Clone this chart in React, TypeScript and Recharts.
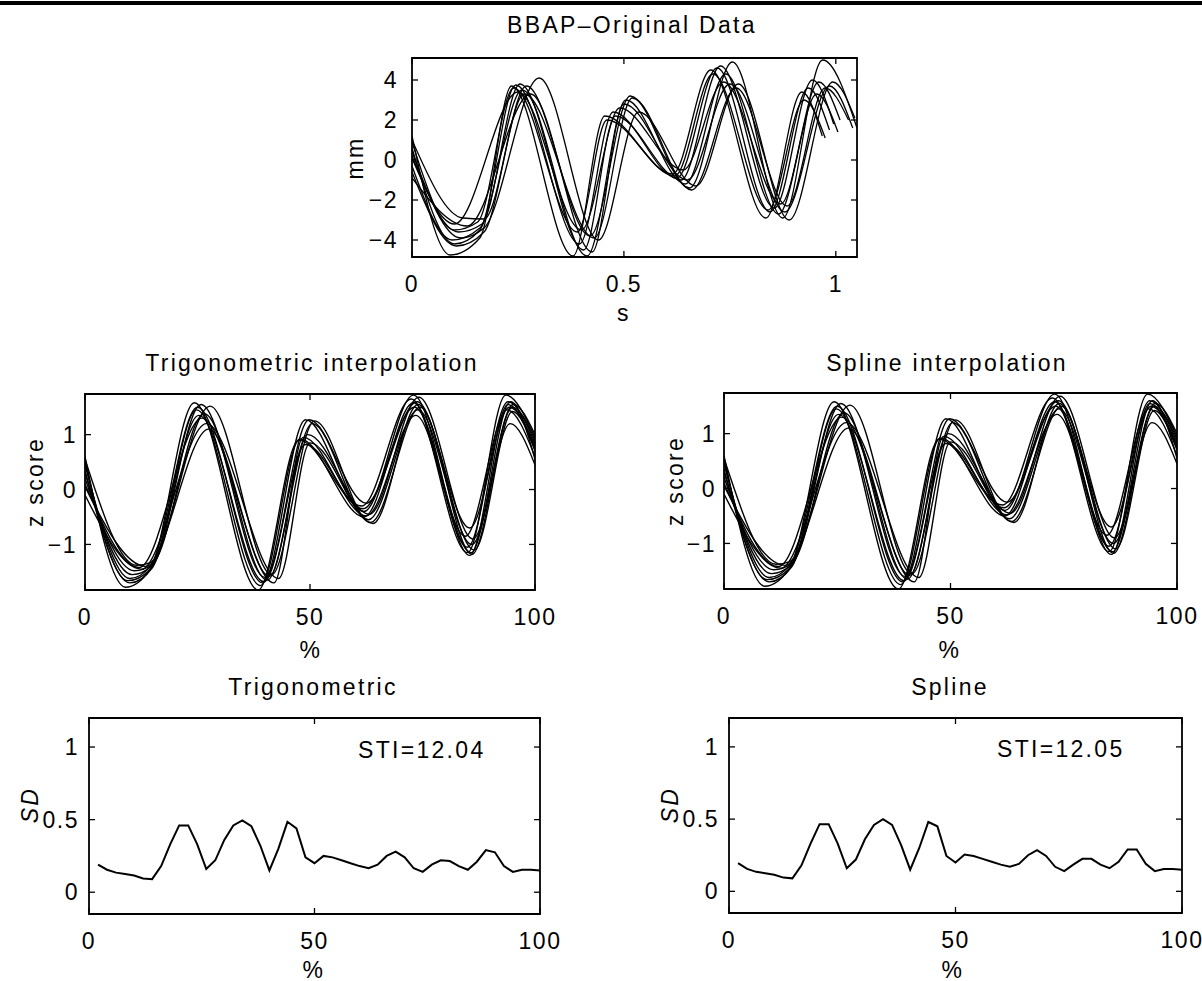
import { Line, LineChart, ReferenceArea, XAxis, YAxis } from "recharts";

const FONT = "'Liberation Sans', Arial, Helvetica, sans-serif";

// BBAP original recordings: [time s, displacement mm] at turning points
const bbap1 = [[0, 1.2], [0.09, -4.75], [0.16, -3.9], [0.235, 3.7], [0.38, -4.8], [0.455, 2.2], [0.615, -0.7], [0.705, 4.5], [0.835, -2.9], [0.92, 3.4], [0.968, 1.2]];
const bbap2 = [[0, 0.6], [0.1, -4.2], [0.16, -3.5], [0.245, 3.75], [0.395, -4.2], [0.475, 2.4], [0.625, -0.9], [0.72, 4.6], [0.845, -2.6], [0.935, 3.6], [0.985, 1.5]];
const bbap3 = [[0, 0.2], [0.11, -3.6], [0.165, -3.2], [0.255, 3.8], [0.405, -4.5], [0.48, 2.2], [0.635, -1.0], [0.728, 4.7], [0.855, -2.4], [0.945, 4.0], [0.995, 1.8]];
const bbap4 = [[0, -0.3], [0.095, -4.0], [0.16, -3.4], [0.26, 3.5], [0.413, -4.8], [0.505, 3.0], [0.645, -1.2], [0.74, 4.3], [0.865, -2.7], [0.955, 3.3], [1.005, 1.4]];
const bbap5 = [[0, 1.0], [0.12, -2.9], [0.17, -2.95], [0.27, 3.7], [0.42, -3.8], [0.515, 3.2], [0.655, -1.4], [0.756, 4.9], [0.875, -2.9], [0.969, 5.0], [1.05, 1.6]];
const bbap6 = [[0, 0.1], [0.1, -3.2], [0.25, 3.4], [0.4, -3.5], [0.49, 2.6], [0.64, -0.5], [0.735, 3.9], [0.87, -2.2], [0.96, 3.9], [1.01, 2.0]];
const bbap7 = [[0, -0.6], [0.105, -4.3], [0.17, -3.6], [0.265, 3.3], [0.43, -3.9], [0.52, 3.1], [0.66, -1.5], [0.765, 3.6], [0.885, -2.3], [0.975, 3.6], [1.03, 2.0]];
const bbap8 = [[0, 0.4], [0.115, -3.9], [0.17, -3.4], [0.3, 4.1], [0.44, -4.0], [0.535, 2.4], [0.67, -1.3], [0.77, 3.8], [0.89, -3.0], [0.993, 3.9], [1.045, 2.1]];
const bbap9 = [[0, 0.9], [0.1, -3.5], [0.155, -3.1], [0.24, 3.6], [0.39, -3.6], [0.46, 2.0], [0.62, -0.8], [0.71, 4.3], [0.84, -2.5], [0.925, 3.0], [0.975, 1.1]];
const bbap10 = [[0, -0.9], [0.13, -3.3], [0.28, 3.3], [0.425, -4.6], [0.5, 2.8], [0.65, -1.0], [0.75, 3.8], [0.88, -2.6], [0.985, 3.7], [1.04, 1.6]];
const bbapCurves = [bbap1, bbap2, bbap3, bbap4, bbap5, bbap6, bbap7, bbap8, bbap9, bbap10];

// time-normalised z scores: [% of cycle, z]
const z1 = [[0, 0.6], [9, -1.78], [14.5, -1.45], [24.3, 1.58], [38.5, -1.83], [47.5, 0.9], [61.5, -0.3], [72.5, 1.65], [85, -1.15], [93.5, 1.72], [100, 0.95]];
const z2 = [[0, 0.45], [10, -1.62], [14.5, -1.4], [25, 1.5], [39.5, -1.7], [49, 1.27], [62, -0.4], [73, 1.72], [85.5, -1.2], [94, 1.55], [100, 0.75]];
const z3 = [[0, 0.3], [10.5, -1.55], [15, -1.38], [25.8, 1.55], [40, -1.6], [49.8, 1.27], [62.5, -0.25], [73.8, 1.6], [85.5, -0.7], [94.3, 1.5], [100, 0.8]];
const z4 = [[0, 0.2], [11, -1.48], [15, -1.36], [26.5, 1.38], [40.5, -1.65], [50.5, 1.2], [63, -0.55], [74, 1.45], [86, -1.0], [94.5, 1.2], [100, 0.45]];
const z5 = [[0, 0.55], [11.5, -1.38], [14.5, -1.33], [27.8, 1.52], [41.5, -1.55], [51, 1.25], [63.5, -0.6], [74.5, 1.5], [86, -1.18], [95, 1.5], [100, 0.9]];
const z6 = [[0, 0.1], [12, -1.42], [26, 1.3], [42, -1.7], [48.5, 0.95], [62.5, -0.48], [73.5, 1.35], [84.5, -0.85], [93.8, 1.45], [100, 0.6]];
const z7 = [[0, -0.1], [12.5, -1.45], [27, 1.2], [43, -1.62], [50, 0.85], [64, -0.62], [74, 1.55], [86.5, -1.1], [95, 1.42], [100, 0.7]];
const z8 = [[0, 0.35], [10, -1.7], [15, -1.42], [24.8, 1.45], [39, -1.75], [47.8, 0.92], [62, -0.5], [73, 1.58], [85, -1.05], [94, 1.6], [100, 0.85]];
const z9 = [[0, 0.05], [13.5, -1.4], [27.5, 1.1], [41, -1.58], [49.5, 1.0], [63.2, -0.45], [74.2, 1.68], [86.2, -0.9], [95.2, 1.55], [100, 1.0]];
const z10 = [[0, 0.5], [9.5, -1.66], [14.5, -1.45], [25.3, 1.35], [39.8, -1.68], [49, 0.82], [61.8, -0.35], [73.2, 1.5], [85.8, -1.15], [94.6, 1.6], [100, 0.55]];
const trigCurves = [z1, z2, z3, z4, z5, z6, z7, z8, z9, z10];
// spline result is visually the same set of curves
const splineCurves = trigCurves;

// standard deviation across cycles
const sdPct = [2, 4, 6, 8, 10, 12, 14, 16, 18, 20, 22, 24, 26, 28, 30, 32, 34, 36, 38, 40, 42, 44, 46, 48, 50, 52, 54, 56, 58, 60, 62, 64, 66, 68, 70, 72, 74, 76, 78, 80, 82, 84, 86, 88, 90, 92, 94, 96, 98, 100];
const sdTrig = [0.19, 0.155, 0.135, 0.125, 0.115, 0.095, 0.09, 0.18, 0.33, 0.46, 0.46, 0.33, 0.16, 0.22, 0.36, 0.46, 0.495, 0.455, 0.32, 0.15, 0.3, 0.485, 0.44, 0.24, 0.2, 0.25, 0.24, 0.22, 0.2, 0.18, 0.165, 0.19, 0.25, 0.28, 0.24, 0.165, 0.14, 0.19, 0.22, 0.215, 0.18, 0.155, 0.21, 0.29, 0.275, 0.18, 0.14, 0.155, 0.155, 0.15];
const sdSpline = [0.195, 0.155, 0.135, 0.125, 0.115, 0.095, 0.09, 0.18, 0.33, 0.465, 0.465, 0.33, 0.16, 0.22, 0.36, 0.46, 0.5, 0.46, 0.32, 0.15, 0.3, 0.48, 0.45, 0.245, 0.2, 0.255, 0.245, 0.225, 0.205, 0.185, 0.17, 0.19, 0.25, 0.285, 0.245, 0.17, 0.14, 0.185, 0.225, 0.225, 0.185, 0.16, 0.205, 0.29, 0.29, 0.19, 0.14, 0.155, 0.155, 0.15];

const toPts = (pairs) => pairs.map(([x, y]) => ({ x, y }));
const fmtNum = (v) => (v < 0 ? "\u2212" + Math.abs(v) : String(v));
const blank = () => "";

const tickStyle = { fontSize: 23, fill: "#000", fontFamily: FONT, letterSpacing: 1.5 };
const tickLn = { stroke: "#000", strokeWidth: 1.3 };

function Panel({ left, top, width, height, xDomain, yDomain, xTicks, yTicks, series, lineWidth, yGap, smooth }) {
  const padL = 90;
  const padT = 10;
  const padR = 40;
  const padB = 50;
  return (
    <div style={{ position: "absolute", left: left - padL, top: top - padT - 1 }}>
      <LineChart
        width={width + padL + padR + 1}
        height={height + padT + padB + 1}
        margin={{ top: padT, right: padR, left: 0, bottom: 0 }}
      >
        <XAxis xAxisId="b" type="number" dataKey="x" domain={xDomain} ticks={xTicks} allowDataOverflow
          height={padB} tickSize={-6} tickMargin={25} tick={tickStyle} tickFormatter={fmtNum}
          axisLine={false} tickLine={tickLn} />
        <XAxis xAxisId="t" orientation="top" type="number" dataKey="x" domain={xDomain} ticks={xTicks} allowDataOverflow
          height={1} tickSize={-6} tickFormatter={blank} axisLine={false} tickLine={tickLn} />
        <YAxis yAxisId="l" type="number" domain={yDomain} ticks={yTicks} allowDataOverflow
          width={padL} tickSize={-6} tickMargin={6 + yGap} tick={tickStyle} tickFormatter={fmtNum}
          axisLine={false} tickLine={tickLn} />
        <YAxis yAxisId="r" orientation="right" type="number" domain={yDomain} ticks={yTicks} allowDataOverflow
          width={1} tickSize={-6} tickFormatter={blank} axisLine={false} tickLine={tickLn} />
        {series.map((s, i) => (
          <Line key={i} xAxisId="b" yAxisId="l" data={s} dataKey="y" type={smooth ? "monotone" : "linear"}
            stroke="#000" strokeWidth={lineWidth} dot={false} activeDot={false}
            isAnimationActive={false} />
        ))}
        <ReferenceArea xAxisId="b" yAxisId="l" x1={xDomain[0]} x2={xDomain[1]} y1={yDomain[0]} y2={yDomain[1]}
          fill="none" stroke="#000" strokeWidth={1.8} ifOverflow="visible" />
      </LineChart>
    </div>
  );
}

function Txt({ x, y, children, size = 23, spacing = 2.3, rotate = false, italic = false, anchor = "center" }) {
  const tx = anchor === "center" ? "-50%" : "0";
  return (
    <div
      style={{
        position: "absolute",
        left: x,
        top: y,
        transform: `translate(${tx}, -50%)${rotate ? " rotate(-90deg)" : ""}`,
        transformOrigin: anchor === "center" ? "50% 50%" : "0 50%",
        fontFamily: FONT,
        fontSize: size,
        letterSpacing: spacing,
        fontStyle: italic ? "italic" : "normal",
        whiteSpace: "nowrap",
        color: "#000",
        lineHeight: 1,
      }}
    >
      {children}
    </div>
  );
}

export default function App() {
  const bbap = bbapCurves.map(toPts);
  const trig = trigCurves.map(toPts);
  const spline = splineCurves.map(toPts);
  const sdT = [sdPct.map((x, i) => ({ x, y: sdTrig[i] }))];
  const sdS = [sdPct.map((x, i) => ({ x, y: sdSpline[i] }))];

  return (
    <div style={{ position: "absolute", left: 0, top: 0, width: 1202, height: 981, background: "#fff", overflow: "hidden" }}>
      <div style={{ position: "absolute", left: 0, top: 1, width: 1202, height: 4, background: "#000" }} />

      <Txt x={632} y={25}>BBAP–Original Data</Txt>
      <Panel left={412} top={58} width={445} height={199} xDomain={[0, 1.05]} yDomain={[-4.85, 5.1]}
        xTicks={[0, 0.5, 1]} yTicks={[-4, -2, 0, 2, 4]} series={bbap} lineWidth={1.3} yGap={14} smooth />
      <Txt x={355} y={158} rotate>mm</Txt>
      <Txt x={624} y={313}>s</Txt>

      <Txt x={312} y={363}>Trigonometric interpolation</Txt>
      <Panel left={85} top={394} width={450} height={196} xDomain={[0, 100]} yDomain={[-1.83, 1.74]}
        xTicks={[0, 50, 100]} yTicks={[-1, 0, 1]} series={trig} lineWidth={1.4} yGap={8} smooth />
      <Txt x={35} y={482} rotate>z score</Txt>
      <Txt x={311} y={650}>%</Txt>

      <Txt x={947} y={363}>Spline interpolation</Txt>
      <Panel left={724} top={393} width={453} height={196} xDomain={[0, 100]} yDomain={[-1.83, 1.74]}
        xTicks={[0, 50, 100]} yTicks={[-1, 0, 1]} series={spline} lineWidth={1.4} yGap={8} smooth />
      <Txt x={675} y={481} rotate>z score</Txt>
      <Txt x={950} y={650}>%</Txt>

      <Txt x={313} y={687}>Trigonometric</Txt>
      <Panel left={89} top={718} width={451} height={196} xDomain={[0, 100]} yDomain={[-0.15, 1.2]}
        xTicks={[0, 50, 100]} yTicks={[0, 0.5, 1]} series={sdT} lineWidth={2} yGap={10} />
      <Txt x={30} y={805} rotate italic>SD</Txt>
      <Txt x={358} y={750} anchor="left">STI=12.04</Txt>
      <Txt x={314} y={970}>%</Txt>

      <Txt x={950} y={687}>Spline</Txt>
      <Panel left={729} top={718} width={453} height={195} xDomain={[0, 100]} yDomain={[-0.15, 1.2]}
        xTicks={[0, 50, 100]} yTicks={[0, 0.5, 1]} series={sdS} lineWidth={2} yGap={10} />
      <Txt x={670} y={805} rotate italic>SD</Txt>
      <Txt x={997} y={749} anchor="left">STI=12.05</Txt>
      <Txt x={953} y={970}>%</Txt>
    </div>
  );
}
